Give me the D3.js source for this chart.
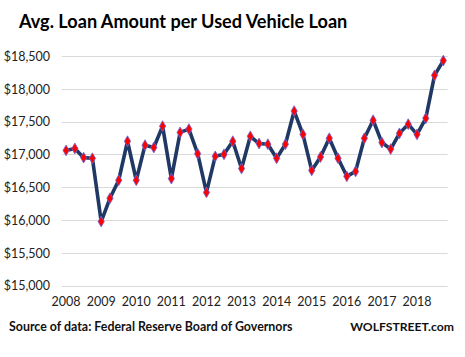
<!DOCTYPE html>
<html>
<head>
<meta charset="utf-8">
<script src="https://cdn.jsdelivr.net/npm/d3@7"></script>
<style>
  html, body { margin: 0; padding: 0; background: #ffffff; }
  svg { display: block; }
</style>
</head>
<body>
<div id="chart"></div>
<script>
const title = "Avg. Loan Amount per Used Vehicle Loan";
const source = "Source of data: Federal Reserve Board of Governors";
const brand = "WOLFSTREET.com";
const years = ["2008","2009","2010","2011","2012","2013","2014","2015","2016","2017","2018"];
const quarters = ["Q1","Q2","Q3","Q4"];
const values = [
  17060, 17090, 16950, 16940,
  15975, 16330, 16605, 17200,
  16605, 17140, 17105, 17430,
  16630, 17335, 17385, 17010,
  16420, 16970, 17000, 17200,
  16785, 17275, 17165, 17155,
  16940, 17155, 17660, 17305,
  16755, 16960, 17245, 16940,
  16665, 16740, 17245, 17520,
  17180, 17080, 17320, 17460,
  17305, 17550, 18205, 18430
];
const yTicks = [15000, 15500, 16000, 16500, 17000, 17500, 18000, 18500];

const W = 465, H = 357;
const plot = { left: 61.7, right: 447.7, top: 56, bottom: 285.5 };

const categories = [];
years.forEach(y => quarters.forEach(q => categories.push(y + " " + q)));
const data = categories.map((c, i) => ({ c, v: values[i] }));

const svg = d3.select("#chart").append("svg")
  .attr("width", W).attr("height", H);

const x = d3.scaleBand().domain(categories).range([plot.left, plot.right]).padding(0);
const y = d3.scaleLinear().domain([15000, 18500]).range([plot.bottom, plot.top]);

const fontFam = "Lato, 'Open Sans', sans-serif";

// title
svg.append("text")
  .attr("x", 19).attr("y", 28)
  .attr("font-family", fontFam).attr("font-weight", 700)
  .attr("font-size", 18.1).attr("fill", "#000")
  .text(title);

// gridlines
svg.append("g").selectAll("line").data(yTicks).join("line")
  .attr("x1", plot.left).attr("x2", plot.right)
  .attr("y1", d => Math.round(y(d)) + 0.5).attr("y2", d => Math.round(y(d)) + 0.5)
  .attr("stroke", "#d9d9d9").attr("stroke-width", 1);

// y axis labels
const yAxis = d3.axisLeft(y).tickValues(yTicks).tickSize(0).tickPadding(0)
  .tickFormat(d => "$" + d3.format(",")(d));
const gy = svg.append("g").attr("transform", `translate(50,0)`).call(yAxis);
gy.select(".domain").remove();
gy.selectAll("text").attr("font-family", fontFam).attr("font-size", 12.5).attr("fill", "#222").attr("dy", "0.35em");

// x axis labels (years at Q1)
const xAxis = d3.axisBottom(x)
  .tickValues(categories.filter((c, i) => i % 4 === 0))
  .tickSize(0).tickPadding(0)
  .tickFormat(d => d.split(" ")[0]);
const gx = svg.append("g").attr("transform", `translate(0,${297})`).call(xAxis);
gx.select(".domain").remove();
gx.selectAll("text").attr("font-family", fontFam).attr("font-size", 12.5).attr("fill", "#222");

// line
const line = d3.line().x(d => x(d.c) + x.bandwidth() / 2).y(d => y(d.v));
svg.append("path").datum(data)
  .attr("d", line).attr("fill", "none")
  .attr("stroke", "#203864").attr("stroke-width", 3.6)
  .attr("stroke-linejoin", "round");

// markers (diamonds)
const sym = d3.symbol().type(d3.symbolDiamond).size(34);
svg.append("g").selectAll("path").data(data).join("path")
  .attr("transform", d => `translate(${x(d.c) + x.bandwidth() / 2},${y(d.v)})`)
  .attr("d", sym)
  .attr("fill", "#ff0000").attr("stroke", "#6a6adf").attr("stroke-width", 0.8);

// footer
svg.append("text")
  .attr("x", 9).attr("y", 331)
  .attr("font-family", fontFam).attr("font-weight", 700)
  .attr("font-size", 12.4).attr("fill", "#111")
  .text(source);
svg.append("text")
  .attr("x", 454).attr("y", 331).attr("text-anchor", "end")
  .attr("font-family", fontFam).attr("font-weight", 700)
  .attr("font-size", 12.2).attr("fill", "#111")
  .text(brand);
</script>
</body>
</html>
